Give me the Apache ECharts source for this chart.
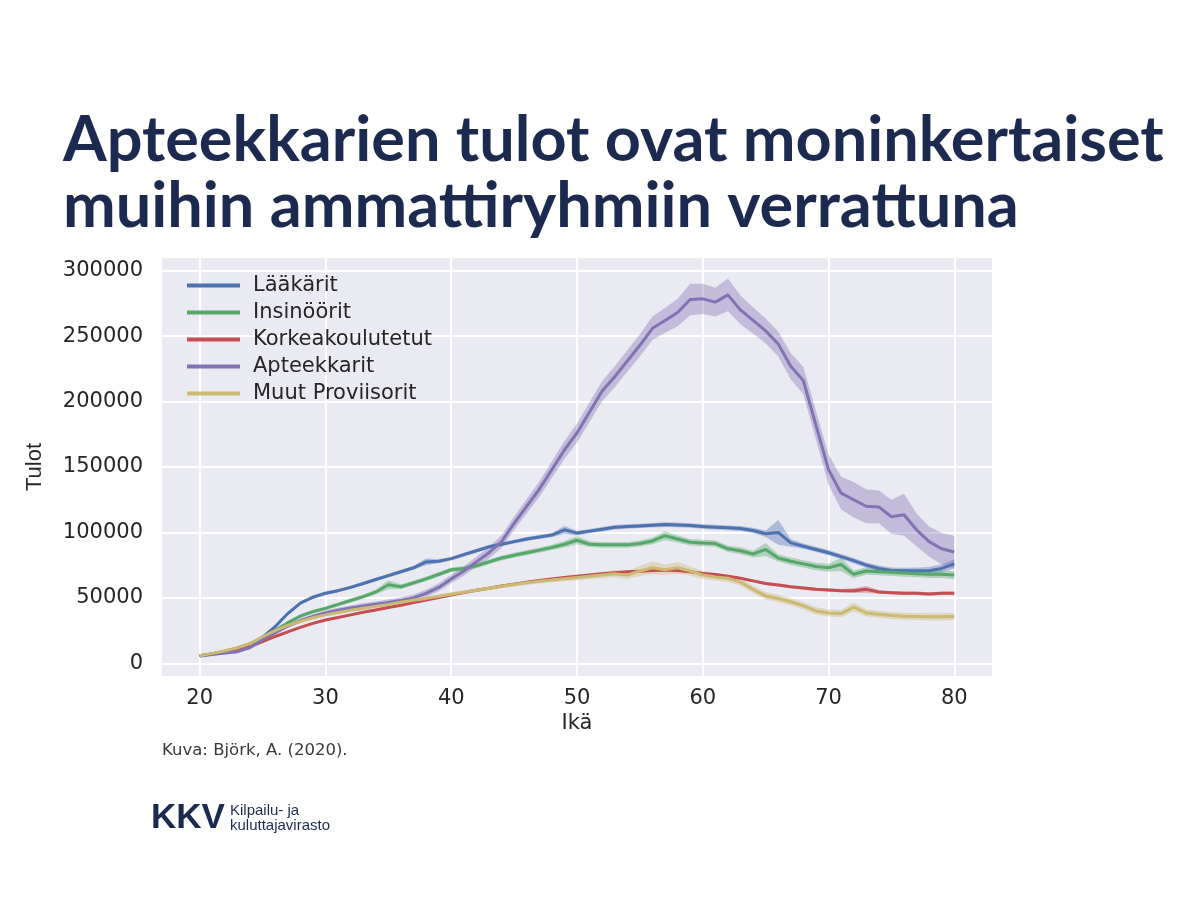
<!DOCTYPE html>
<html>
<head>
<meta charset="utf-8">
<script src="https://cdn.jsdelivr.net/npm/echarts@6/dist/echarts.min.js"></script>
<style>html,body{margin:0;padding:0;background:#fff;}#c{width:1200px;height:900px;}</style>
</head>
<body>
<div id="c"></div>
<script>
const ages = [20,21,22,23,24,25,26,27,28,29,30,31,32,33,34,35,36,37,38,39,40,41,42,43,44,45,46,47,48,49,50,51,52,53,54,55,56,57,58,59,60,61,62,63,64,65,66,67,68,69,70,71,72,73,74,75,76,77,78,79,80];
const xTicks = [20,30,40,50,60,70,80];
const yTicks = [0,50000,100000,150000,200000,250000,300000];
const seriesNames = ['Lääkärit','Insinöörit','Korkeakoulutetut','Apteekkarit','Muut Proviisorit'];

const laakarit = [5800,7200,9000,11200,14500,20000,28000,38000,46000,50500,
  53500,55500,58000,61000,64000,67000,70000,73000,77500,78000,
  80000,83000,86000,89000,91000,93000,95000,96500,98000,102000,
  99500,101000,102500,104000,104500,105000,105500,106000,105700,105300,
  104500,104000,103500,103000,101500,99000,100000,92000,89500,87000,
  84500,81500,78500,75000,72500,71000,70800,70800,70800,72500,76000];
const laakaritCI = [600,600,700,800,900,1000,1200,1300,1300,1300,
  1300,1300,1300,1300,1300,1400,1400,1500,2500,1500,
  1500,1500,1500,1500,1500,1500,1500,1600,1600,3000,
  1800,1700,1700,1700,1700,1700,1700,1800,1800,1800,
  1800,1800,1800,1900,2000,2500,9500,3000,2000,2000,
  2000,2000,2000,2000,2200,2200,2200,2500,2800,3200,3500];

const insinoorit = [5800,7300,9300,11800,15000,19500,25000,31000,36000,39500,
  42000,45000,48000,51000,54500,60000,58500,61500,64500,68000,
  71500,72500,74500,77500,80500,82500,84500,86500,88500,91000,
  94000,91000,90500,90500,90500,91500,93500,97500,95000,92500,
  92000,91500,87500,86000,83500,87000,80500,78000,76000,74000,
  73000,75500,68000,70500,70000,69500,69000,68500,68000,68000,67500];
const insinooritCI = [600,600,700,800,900,1000,1200,1300,1400,1400,
  1500,1500,1500,1600,1700,3500,2000,1800,1800,1800,
  1800,1800,1800,1800,1900,1900,2000,2000,2000,2500,
  3000,2200,2200,2200,2200,2300,2500,3500,2600,2500,
  2500,2500,2500,2600,2600,5000,2800,2800,2800,2800,
  3000,5000,3000,2800,2800,2800,2800,2800,2800,2800,3000];

const korkeakoulutetut = [5800,7200,8800,10200,12800,16500,20500,24000,27500,30500,
  33100,35000,37000,39000,40800,42600,44400,46400,48400,50300,
  52200,54000,55800,57400,59000,60500,62000,63200,64400,65500,
  66500,67500,68400,69200,69900,70400,70900,71300,71000,70000,
  68700,67800,66500,65000,63000,61000,59800,58500,57500,56500,
  56000,55500,55500,56500,54500,54000,53500,53500,53000,53500,53500];
const korkeakoulutetutCI = [500,500,500,600,600,700,700,800,800,800,
  800,800,800,800,800,800,800,800,800,800,
  800,800,800,800,800,800,800,800,800,800,
  900,900,900,900,900,900,900,1000,1000,1000,
  1000,1000,1000,1000,1100,1100,1100,1100,1200,1200,
  1200,1300,1800,2500,1300,1300,1300,1300,1300,1400,1400];

const apteekkarit = [5600,6800,7800,8900,12000,18000,23500,28500,32500,35800,
  38500,40500,42200,43800,45200,46500,48000,50000,53500,58000,
  64500,70500,77500,84500,93000,107000,120000,133000,148000,163000,
  176000,192000,208000,219000,231000,243000,256000,262000,268000,278000,
  278500,276000,281500,270000,262000,254000,244000,227000,216000,182000,
  148000,130000,125000,120000,119500,112000,113500,102000,93000,87500,85000];
const apteekkaritCI = [800,900,1000,1100,1200,1300,1400,1500,1600,1700,
  1800,1900,2000,2000,2100,2200,2300,2500,2800,3000,
  3300,3600,4000,4400,4800,5200,5600,6000,6400,6800,
  7200,7500,7800,8000,8300,8500,9000,9500,10500,12000,
  11500,11000,12500,11000,10000,9500,9500,10000,10500,11000,
  11500,12500,13500,13000,12500,13000,16000,12500,11500,12000,12500];

const muutProviisorit = [5800,7600,9600,11800,15000,20300,25000,29000,32000,34800,
  37000,38800,40500,42000,43500,45000,46600,48100,49600,51200,
  52800,54300,55800,57300,58800,60200,61500,62700,63700,64700,
  65500,66500,67500,68500,67500,70500,73000,71500,73000,70500,
  67500,66000,65000,62000,56500,51500,49500,47000,44000,40000,
  38500,38000,43000,38500,37500,36500,36000,35800,35500,35500,35800];
const muutProviisoritCI = [700,700,800,900,1000,1100,1200,1300,1300,1300,
  1300,1300,1300,1300,1300,1300,1300,1300,1300,1300,
  1400,1400,1400,1400,1500,1500,1600,1700,1800,2000,
  2200,2300,2500,2800,3000,4000,5000,4000,4500,3500,
  3000,2800,2800,2800,2800,2800,2800,2800,2800,2800,
  2800,2800,3500,2800,2700,2700,2700,2700,2700,2800,2800];

const colors = ['#4c72b0','#55a868','#c44e52','#8172b2','#ccb974'];
const means = [laakarit, insinoorit, korkeakoulutetut, apteekkarit, muutProviisorit];
const cis = [laakaritCI, insinooritCI, korkeakoulutetutCI, apteekkaritCI, muutProviisoritCI];

const series = [];
seriesNames.forEach((name, i) => {
  const m = means[i], c = cis[i];
  series.push({
    type: 'custom', name: name + ' (luottamusväli)', silent: true, z: 2,
    coordinateSystem: 'cartesian2d',
    data: [[ages[0], m[0]]],
    renderItem: function (params, api) {
      const upper = ages.map((a, j) => api.coord([a, m[j] + c[j]]));
      const lower = ages.map((a, j) => api.coord([a, m[j] - c[j]])).reverse();
      return {
        type: 'polygon',
        shape: { points: upper.concat(lower) },
        style: { fill: colors[i], opacity: 0.38 }
      };
    }
  });
  series.push({
    type: 'line', name: name,
    data: ages.map((a, j) => [a, m[j]]),
    symbol: 'none', lineStyle: { color: colors[i], width: 3 },
    itemStyle: { color: colors[i] }, z: 3
  });
});

const chart = echarts.init(document.getElementById('c'), null, { renderer: 'canvas' });
const tickFont = { fontFamily: 'DejaVu Sans', fontSize: 21, color: '#262626' };
chart.setOption({
  animation: false,
  backgroundColor: '#ffffff',
  title: {
    text: 'Apteekkarien tulot ovat moninkertaiset\nmuihin ammattiryhmiin verrattuna',
    left: 58, top: 103,
    textStyle: { fontFamily: 'Lato', fontWeight: 'bold', fontSize: 63, lineHeight: 66, color: '#1b2a4e' }
  },
  grid: { left: 162, right: 208, top: 258, bottom: 224, show: true, backgroundColor: '#eaeaf2', borderWidth: 0 },
  legend: {
    data: seriesNames, orient: 'vertical', left: 182, top: 270,
    icon: 'rect', itemWidth: 53, itemHeight: 4, itemGap: 6,
    textStyle: { fontFamily: 'DejaVu Sans', fontSize: 21, color: '#262626', lineHeight: 21, padding: [0, 0, 0, 8] }
  },
  xAxis: {
    type: 'value', min: 17, max: 83,
    name: 'Ikä', nameLocation: 'middle', nameGap: 37,
    nameTextStyle: { fontFamily: 'DejaVu Sans', fontSize: 21, color: '#262626' },
    axisLine: { show: false },
    axisTick: { show: false, customValues: xTicks },
    axisLabel: Object.assign({ customValues: xTicks, margin: 12, formatter: v => String(v) }, tickFont),
    splitLine: { show: true, lineStyle: { color: '#ffffff', width: 2 } }
  },
  yAxis: {
    type: 'value', min: -9700, max: 309700,
    name: 'Tulot', nameLocation: 'middle', nameGap: 116, nameRotate: 90,
    nameTextStyle: { fontFamily: 'Liberation Sans', fontSize: 22, color: '#262626' },
    axisLine: { show: false },
    axisTick: { show: false, customValues: yTicks },
    axisLabel: Object.assign({ customValues: yTicks, margin: 19, formatter: v => String(v) }, tickFont),
    splitLine: { show: true, lineStyle: { color: '#ffffff', width: 2 } }
  },
  graphic: [
    { type: 'text', left: 162, top: 742, style: { text: 'Kuva: Björk, A. (2020).', font: '16.5px "DejaVu Sans"', fill: '#3a3a3a' } },
    { type: 'text', left: 151, top: 801, style: { text: 'KKV', font: 'bold 35px "Liberation Sans"', fill: '#1b2a4e' } },
    { type: 'text', left: 230, top: 803, style: { text: 'Kilpailu- ja\nkuluttajavirasto', font: '15px "Liberation Sans"', lineHeight: 15, fill: '#1b2a4e' } }
  ],
  series: series
});
</script>
</body>
</html>
